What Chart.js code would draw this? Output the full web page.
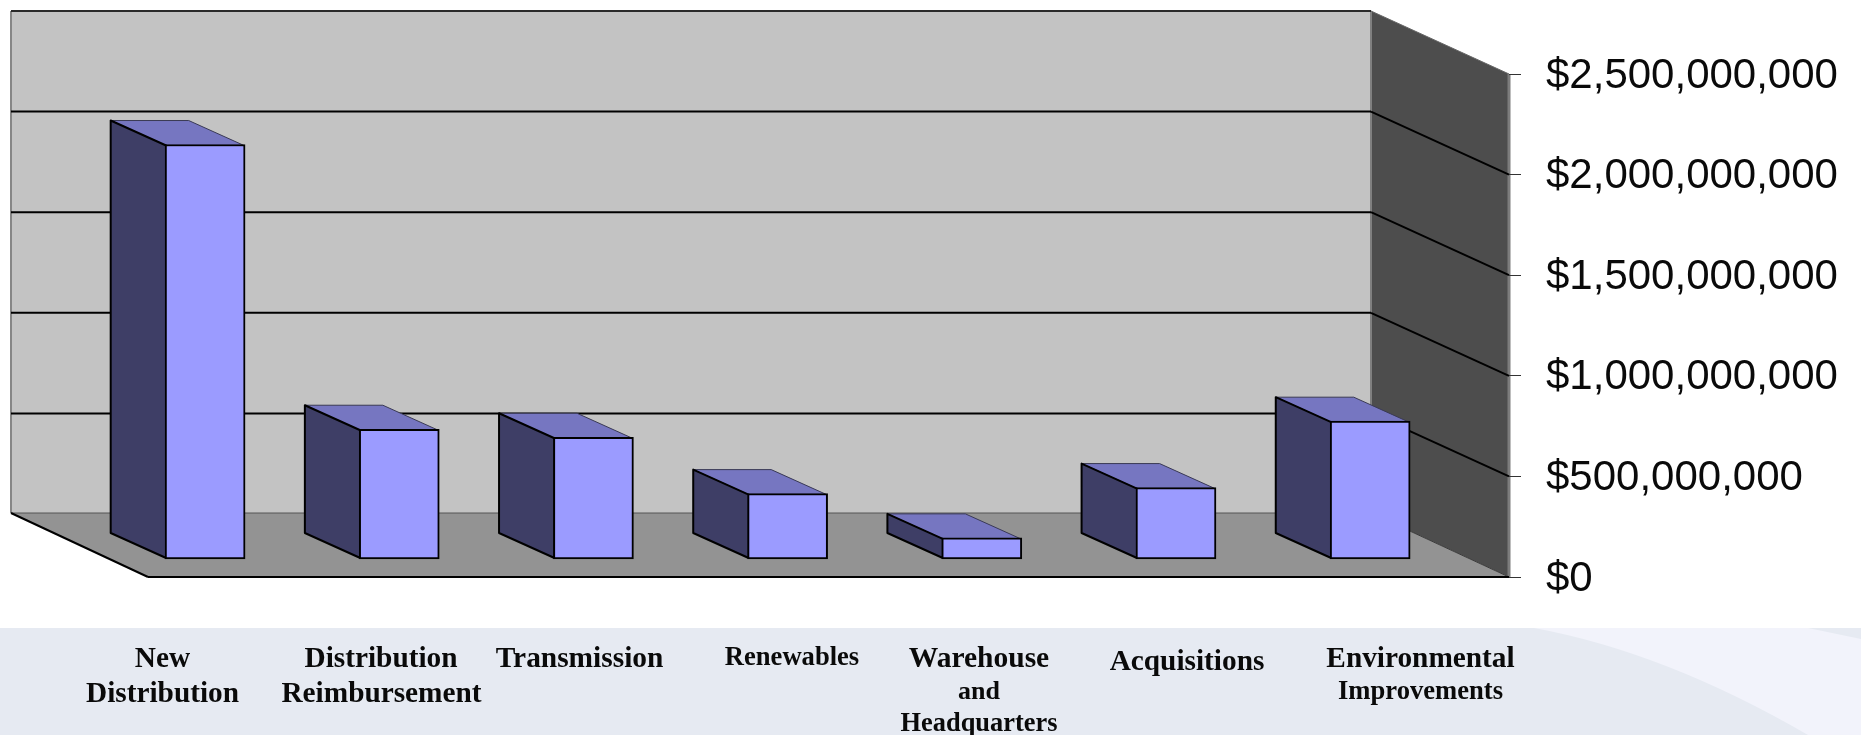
<!DOCTYPE html>
<html>
<head>
<meta charset="utf-8">
<title>Capital spending</title>
<script src="https://cdn.jsdelivr.net/npm/chart.js@4"></script>
<style>
html, body { margin: 0; padding: 0; background: #fff; overflow: hidden; }
canvas { display: block; }
</style>
</head>
<body>
<canvas id="myChart" width="1861" height="735"></canvas>
<script>
var categories = ['New Distribution', 'Distribution Reimbursement', 'Transmission', 'Renewables', 'Warehouse and Headquarters', 'Acquisitions', 'Environmental Improvements'];
var spending = [2060000000, 645000000, 605000000, 325000000, 105000000, 355000000, 685000000];
var axisTicks = [0, 500000000, 1000000000, 1500000000, 2000000000, 2500000000];

// the text boxes under the chart are placed by hand in the original, one line each
var labelLines = [
    ['New', 162.5, 667, 29.3], ['Distribution', 162.5, 702, 29.3],
    ['Distribution', 381, 667, 29.3], ['Reimbursement', 381.5, 702, 29.3],
    ['Transmission', 579.5, 667, 29.4],
    ['Renewables', 792, 664.5, 26.6],
    ['Warehouse', 979, 667, 29.5], ['and', 979, 699, 26], ['Headquarters', 979, 731, 26.4],
    ['Acquisitions', 1187, 670, 29.3],
    ['Environmental', 1420.5, 667, 29.3], ['Improvements', 1420.5, 699, 26.6]
];

var wallLeft = 11, wallRight = 1371, wallTop = 11, wallDx = 138, wallDy = 63;
var barDx = 55.4, barDy = 25;

function poly(ctx, pts, fill, stroke, lw) {
    ctx.beginPath();
    ctx.moveTo(pts[0][0], pts[0][1]);
    for (var i = 1; i < pts.length; i++) ctx.lineTo(pts[i][0], pts[i][1]);
    ctx.closePath();
    if (fill) { ctx.fillStyle = fill; ctx.fill(); }
    if (stroke) { ctx.strokeStyle = stroke; ctx.lineWidth = lw; ctx.stroke(); }
}

function line(ctx, x1, y1, x2, y2, color, lw) {
    ctx.beginPath();
    ctx.moveTo(x1, y1);
    ctx.lineTo(x2, y2);
    ctx.strokeStyle = color;
    ctx.lineWidth = lw;
    ctx.stroke();
}

var scenePlugin = {
    id: 'scene',
    beforeDraw: function (chart) {
        var ctx = chart.ctx, axis = chart.scales.y1;
        var front = chart.chartArea.right;
        var floorFront = axis.getPixelForValue(0);
        var floorBack = floorFront - wallDy - 1;
        ctx.save();

        // banner under the chart
        ctx.fillStyle = '#e6eaf2';
        ctx.fillRect(0, 628, 1861, 107);
        ctx.beginPath();
        ctx.moveTo(1534, 628);
        ctx.lineTo(1808, 628);
        ctx.lineTo(1861, 639);
        ctx.lineTo(1861, 735);
        ctx.lineTo(1808, 735);
        ctx.quadraticCurveTo(1665, 652, 1534, 628);
        ctx.closePath();
        ctx.fillStyle = '#f2f3fb';
        ctx.fill();

        // walls and floor
        poly(ctx, [[wallLeft, wallTop], [wallRight, wallTop], [wallRight, floorBack], [wallLeft, floorBack]], '#c3c3c3');
        poly(ctx, [[wallRight, wallTop], [front, wallTop + wallDy], [front, floorFront], [wallRight, floorBack]], '#4d4d4d');
        poly(ctx, [[wallLeft, floorBack], [wallRight, floorBack], [front, floorFront], [wallLeft + wallDx - 1, floorFront]], '#939393');

        line(ctx, wallLeft, wallTop, wallLeft, floorBack, '#868686', 2);
        line(ctx, wallRight, wallTop, wallRight, floorBack, '#808080', 2);
        line(ctx, wallLeft, wallTop, wallRight, wallTop, '#2a2a2a', 2);
        line(ctx, wallRight, wallTop, front, wallTop + wallDy, '#666', 1);
        line(ctx, front, wallTop + wallDy, front, floorFront, '#7c7c7c', 3);
        line(ctx, wallLeft, floorBack, wallRight, floorBack, '#555', 1);
        line(ctx, wallRight, floorBack, front, floorFront, '#3a3a3a', 1);
        line(ctx, wallLeft, floorBack, wallLeft + wallDx - 1, floorFront, '#000', 2);
        line(ctx, wallLeft + wallDx - 1, floorFront, front, floorFront, '#000', 2);

        // gridlines run along the back wall and down the side wall to the axis
        axisTicks.forEach(function (v) {
            if (v === 0 || v === axisTicks[axisTicks.length - 1]) return;
            var y = axis.getPixelForValue(v);
            line(ctx, wallLeft, y - wallDy, wallRight, y - wallDy, '#000', 2);
            line(ctx, wallRight, y - wallDy, front, y, '#000', 2);
        });

        // category labels
        ctx.fillStyle = '#0a0a0a';
        ctx.textAlign = 'center';
        ctx.textBaseline = 'alphabetic';
        labelLines.forEach(function (l) {
            ctx.font = 'bold ' + l[3] + 'px "Liberation Serif"';
            ctx.fillText(l[0], l[1], l[2]);
        });
        ctx.restore();
    },
    beforeDatasetsDraw: function (chart) {
        var ctx = chart.ctx;
        ctx.save();
        ctx.lineJoin = 'round';
        chart.getDatasetMeta(0).data.forEach(function (bar) {
            var half = bar.width / 2 - 1;
            var l = bar.x - half, r = bar.x + half, t = bar.y + 1, b = bar.base - 1;
            poly(ctx, [[l, t], [l - barDx, t - barDy], [r - barDx, t - barDy], [r, t]], '#7676c1', '#3a3a55', 1);
            poly(ctx, [[l, t], [l - barDx, t - barDy], [l - barDx, b - barDy], [l, b]], '#3e3e66', '#000', 2);
        });
        ctx.restore();
    }
};

var ctx = document.getElementById('myChart').getContext('2d');
var myChart = new Chart(ctx, {
    type: 'bar',
    plugins: [scenePlugin],
    data: {
        labels: categories,
        datasets: [{
            data: spending.map(function (v, i) { return { x: i, y: v }; }),
            backgroundColor: '#9b9bff',
            borderColor: '#000',
            borderWidth: 2,
            borderSkipped: false,
            barThickness: 80,
            yAxisID: 'y'
        }]
    },
    options: {
        responsive: false,
        animation: false,
        layout: { padding: { left: 108, top: 56, right: 0, bottom: 158 } },
        plugins: { legend: { display: false }, tooltip: { enabled: false } },
        scales: {
            x: { type: 'linear', display: false, offset: false, min: -0.5, max: 6.715 },
            // bars stand on a plane set in from the front edge of the floor
            y: { display: false, min: -89460000, max: 2500000000 },
            y1: {
                position: 'right',
                min: 0,
                max: 2589500000,
                afterFit: function (scale) { scale.width = 352; },
                afterBuildTicks: function (scale) {
                    scale.ticks = axisTicks.map(function (v) { return { value: v }; });
                },
                border: { display: false },
                grid: { drawOnChartArea: false, tickLength: 12, tickColor: '#333', tickWidth: 1 },
                ticks: {
                    padding: 25,
                    labelOffset: 2,
                    autoSkip: false,
                    color: '#0a0a0a',
                    font: { family: '"Liberation Sans"', size: 42 },
                    callback: function (v) { return '$' + Number(v).toLocaleString('en-US'); }
                }
            }
        }
    }
});
</script>
</body>
</html>
